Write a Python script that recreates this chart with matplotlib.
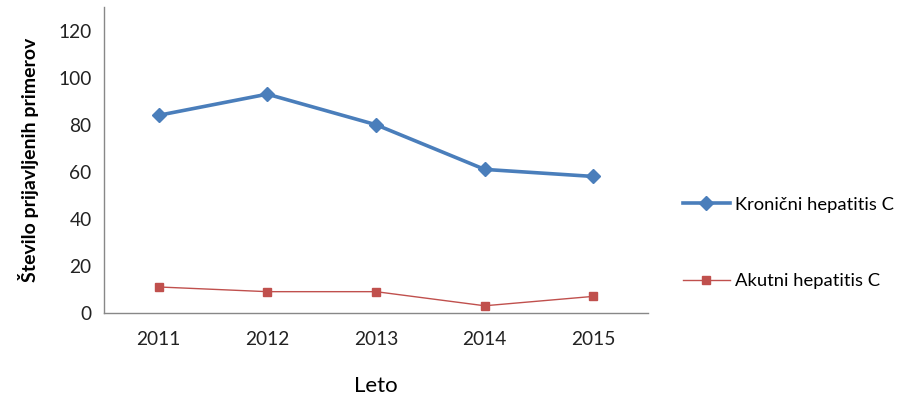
import matplotlib
matplotlib.use("Agg")
import matplotlib.pyplot as plt

years = ["2011", "2012", "2013", "2014", "2015"]
kronicni = [84, 93, 80, 61, 58]
akutni = [11, 9, 9, 3, 7]
series_labels = ["Kronični hepatitis C", "Akutni hepatitis C"]

plt.rcParams["font.family"] = ["Lato", "DejaVu Sans"]

fig = plt.figure(figsize=(9.06, 3.98), dpi=100)
ax = fig.add_axes([0.115, 0.214, 0.6, 0.768])

x = range(len(years))
h1, = ax.plot(x, kronicni, color="#4A7EBB", lw=2.6, marker="D", ms=7,
              label=series_labels[0])
h2, = ax.plot(x, akutni, color="#C0504D", lw=1.0, marker="s", ms=6,
              label=series_labels[1])

ax.set_xlim(-0.5, len(years) - 0.5)
ax.set_ylim(0, 130)
ax.set_yticks(range(0, 121, 20))
ax.set_xticks(list(x))
ax.set_xticklabels(years)
ax.tick_params(length=0, labelsize=13.8, colors="#222222", pad=9)
ax.tick_params(axis="x", pad=13)
for s in ("top", "right"):
    ax.spines[s].set_visible(False)
for s in ("left", "bottom"):
    ax.spines[s].set_color("#888888")
    ax.spines[s].set_linewidth(1.0)

ax.set_ylabel("Število prijavljenih primerov", fontsize=14, fontweight="bold",
              labelpad=14)
ax.set_xlabel("Leto", fontsize=16, labelpad=20)

fig.legend(handles=[h1, h2], loc="center left",
           bbox_to_anchor=(0.754, 0.39), frameon=False, fontsize=13.2,
           borderpad=0, borderaxespad=0,
           handlelength=2.55, handletextpad=0.27, labelspacing=3.3)

fig.savefig("out.png", dpi=100)
